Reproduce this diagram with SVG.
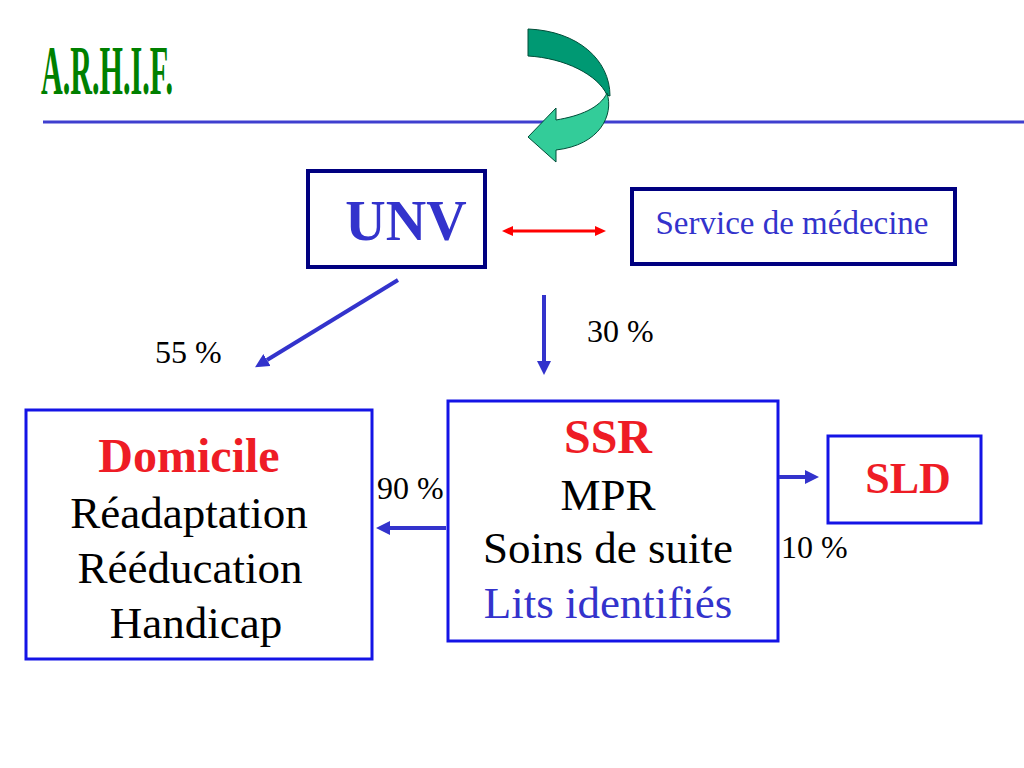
<svg xmlns="http://www.w3.org/2000/svg" width="1024" height="768" viewBox="0 0 1024 768">
<defs>
<marker id="ah" markerUnits="userSpaceOnUse" markerWidth="14" markerHeight="14" refX="0" refY="7" orient="auto" viewBox="0 0 14 14"><path d="M0,0 L14,7 L0,14 z" fill="#3333CC"/></marker>
<marker id="ahr" markerUnits="userSpaceOnUse" markerWidth="11" markerHeight="10" refX="0" refY="5" orient="auto-start-reverse" viewBox="0 0 11 10"><path d="M0,0 L11,5 L0,10 z" fill="#FF0000"/></marker>
<style>
text{font-family:"Liberation Serif","Times New Roman",serif;}
.blk{fill:#000000;}
.blu{fill:#3333CC;}
.red{fill:#EE1C25;font-weight:bold;}
.navy{fill:none;stroke:#000080;stroke-width:4;}
.bbox{fill:none;stroke:#1414E6;stroke-width:3;}
.con{stroke:#3333CC;stroke-width:4;fill:none;marker-end:url(#ah);}
</style>
</defs>
<rect width="1024" height="768" fill="#fff"/>
<text x="41" y="94" font-size="69" font-weight="bold" fill="#008000" textLength="132" lengthAdjust="spacingAndGlyphs">A.R.H.I.F.</text>
<line x1="43" y1="122" x2="1024" y2="122" stroke="#3F3FCF" stroke-width="3"/>
<g id="curved-arrow" stroke="#004d38" stroke-width="1">
<path d="M528,29 C578,31 610,60 610,96 L607,95 C598,75 565,58 528,56 Z" fill="#009973"/>
<path d="M607,93 C614,115 600,145 556,150 L556,162 L528,137 L556,108 L556,120 C580,116 600,108 607,93 Z" fill="#33CC99"/>
</g>
<g id="unv">
<rect class="navy" x="308" y="171" width="177" height="96"/>
<text class="blu" x="406" y="240" font-size="56" font-weight="bold" text-anchor="middle">UNV</text>
</g>
<g id="service">
<rect class="navy" x="632" y="189" width="323" height="75"/>
<text class="blu" x="792" y="234" font-size="33" text-anchor="middle">Service de médecine</text>
</g>
<g id="domicile">
<rect class="bbox" x="26" y="410" width="346" height="249"/>
<text class="red" x="189" y="472" font-size="48" text-anchor="middle">Domicile</text>
<text class="blk" x="189" y="528" font-size="45" text-anchor="middle">Réadaptation</text>
<text class="blk" x="190" y="583" font-size="45" text-anchor="middle">Rééducation</text>
<text class="blk" x="196" y="638" font-size="45" text-anchor="middle">Handicap</text>
</g>
<g id="ssr">
<rect class="bbox" x="448" y="401" width="330" height="240"/>
<text class="red" x="608" y="453" font-size="48" text-anchor="middle">SSR</text>
<text class="blk" x="608" y="510" font-size="45" text-anchor="middle">MPR</text>
<text class="blk" x="608" y="563" font-size="45" text-anchor="middle">Soins de suite</text>
<text class="blu" x="608" y="618" font-size="45" text-anchor="middle">Lits identifiés</text>
</g>
<g id="sld">
<rect class="bbox" x="828" y="436" width="153" height="87"/>
<text class="red" x="908" y="493" font-size="44" text-anchor="middle">SLD</text>
</g>
<g id="connectors">
<line x1="513" y1="231" x2="595" y2="231" stroke="#FF0000" stroke-width="3" marker-start="url(#ahr)" marker-end="url(#ahr)"/>
<line class="con" x1="398" y1="280" x2="267" y2="360"/>
<line class="con" x1="544" y1="295" x2="544" y2="361"/>
<line class="con" x1="446" y1="528" x2="390" y2="528"/>
<line class="con" x1="779" y1="477" x2="805" y2="477"/>
</g>
<g id="labels">
<text class="blk" x="155" y="363" font-size="32">55 %</text>
<text class="blk" x="587" y="342" font-size="32">30 %</text>
<text class="blk" x="377" y="499" font-size="32">90 %</text>
<text class="blk" x="781" y="558" font-size="32">10 %</text>
</g>
</svg>
